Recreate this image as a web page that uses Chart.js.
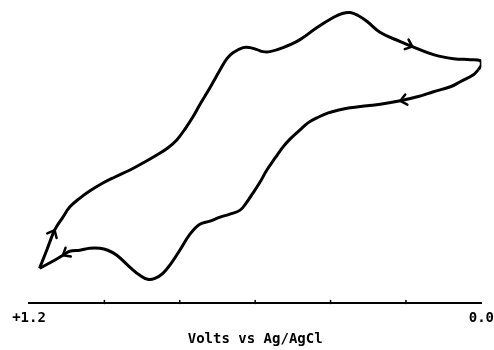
<!DOCTYPE html>
<html>
<head>
<meta charset="utf-8">
<script src="https://cdn.jsdelivr.net/npm/chart.js@4/dist/chart.umd.min.js"></script>
<style>
  html, body { margin: 0; padding: 0; background: #fff; }
  #wrap { width: 494px; height: 350px; }
</style>
</head>
<body>
<div id="wrap"><canvas id="cv"></canvas></div>
<script>
// forward scan (upper trace), +1.17 V -> 0.0 V
const fwdVolts = [1.172, 1.153, 1.132, 1.110, 1.092, 1.065, 1.039, 1.004, 0.972, 0.932,
  0.893, 0.861, 0.832, 0.808, 0.784, 0.765, 0.747, 0.720, 0.693, 0.675,
  0.659, 0.632, 0.614, 0.595, 0.579, 0.561, 0.526, 0.481, 0.436, 0.393,
  0.369, 0.348, 0.327, 0.303, 0.268, 0.215, 0.183, 0.127, 0.074, 0.029,
  0.003, 0.000, 0.008];
const fwdCurrent = [35, 53, 73, 86, 96, 105, 112, 120, 126, 133,
  141, 148, 155, 163, 175, 186, 198, 215, 233, 244,
  250, 255, 255, 253, 251, 251, 255, 263, 275, 285,
  289, 290, 287, 281, 270, 261, 256, 248, 244, 243,
  242, 238, 233];

// reverse scan (lower trace), 0.0 V -> +1.17 V
const revVolts = [0.008, 0.021, 0.056, 0.082, 0.127, 0.170, 0.215, 0.260, 0.303, 0.348,
  0.375, 0.406, 0.436, 0.460, 0.481, 0.507, 0.526, 0.547, 0.569, 0.587,
  0.606, 0.624, 0.640, 0.667, 0.693, 0.720, 0.747, 0.773, 0.800, 0.821,
  0.845, 0.866, 0.885, 0.906, 0.932, 0.967, 0.991, 1.012, 1.039, 1.065,
  1.092, 1.110, 1.137, 1.172];
const revCurrent = [233, 228, 221, 216, 211, 206, 202, 199, 197, 195,
  193, 190, 185, 180, 173, 164, 156, 145, 133, 121,
  110, 100, 93, 89, 86, 82, 79, 69, 53, 41,
  30, 25, 24, 28, 36, 48, 53, 55, 55, 53,
  52, 48, 42, 35];

// where the direction arrows sit (index into each trace)
const fwdArrows = [2, 36];
const revArrows = [6, 41];

const tickValues = [0, 0.2, 0.4, 0.6, 0.8, 1.0, 1.2];
const axisTitle = 'Volts vs Ag/AgCl';

const toPts = (xs, ys) => xs.map((x, i) => ({ x: x, y: ys[i] }));
const FONT = 'DejaVu Sans Mono';

// arrow heads + small upward tick marks
const cvExtras = {
  id: 'cvExtras',
  afterDatasetsDraw(chart) {
    const ctx = chart.ctx;
    ctx.save();
    ctx.strokeStyle = '#000';
    ctx.lineWidth = 2.5;
    ctx.lineCap = 'round';
    [[0, fwdArrows], [1, revArrows]].forEach(([di, idxs]) => {
      const pts = chart.getDatasetMeta(di).data;
      idxs.forEach(k => {
        const p = pts[k], a = pts[k - 1], b = pts[k + 1];
        const ang = Math.atan2(b.y - a.y, b.x - a.x);
        const L = 8, s = 0.7;
        ctx.beginPath();
        ctx.moveTo(p.x - L * Math.cos(ang - s), p.y - L * Math.sin(ang - s));
        ctx.lineTo(p.x, p.y);
        ctx.lineTo(p.x - L * Math.cos(ang + s), p.y - L * Math.sin(ang + s));
        ctx.stroke();
      });
    });
    const xs = chart.scales.x;
    ctx.lineWidth = 1.5;
    tickValues.slice(1, -1).forEach(v => {
      const px = xs.getPixelForValue(v);
      ctx.beginPath();
      ctx.moveTo(px, xs.top);
      ctx.lineTo(px, xs.top - 3);
      ctx.stroke();
    });
    ctx.restore();
  }
};

const lineStyle = {
  borderColor: '#000',
  borderWidth: 3,
  pointRadius: 0,
  showLine: true,
  tension: 0.4,
  fill: false
};

new Chart(document.getElementById('cv'), {
  type: 'scatter',
  data: {
    datasets: [
      Object.assign({ label: 'forward', data: toPts(fwdVolts, fwdCurrent) }, lineStyle),
      Object.assign({ label: 'reverse', data: toPts(revVolts, revCurrent) }, lineStyle)
    ]
  },
  options: {
    responsive: true,
    maintainAspectRatio: false,
    animation: false,
    layout: { padding: { top: 5, bottom: 2.5, left: 29, right: 6 } },
    plugins: {
      legend: { display: false },
      tooltip: { enabled: false }
    },
    scales: {
      x: {
        type: 'linear',
        reverse: true,
        min: 0,
        max: 1.2,
        // grid hidden, tick length only used as gap under the axis
        grid: { display: false, drawTicks: true, tickLength: 7 },
        border: { display: true, color: '#000', width: 2 },
        ticks: {
          stepSize: 0.2,
          autoSkip: false,
          maxRotation: 0,
          padding: 0,
          color: '#000',
          font: { family: FONT, size: 14, weight: 'bold' },
          callback: v => Math.abs(v - 1.2) < 1e-6 ? '+1.2' : (Math.abs(v) < 1e-6 ? '0.0' : '')
        },
        title: {
          display: true,
          text: axisTitle,
          color: '#000',
          padding: { top: 3.5, bottom: 0 },
          font: { family: FONT, size: 14, weight: 'bold' }
        }
      },
      y: {
        display: false,
        min: 0,
        max: 297.5
      }
    }
  },
  plugins: [cvExtras]
});
</script>
</body>
</html>
